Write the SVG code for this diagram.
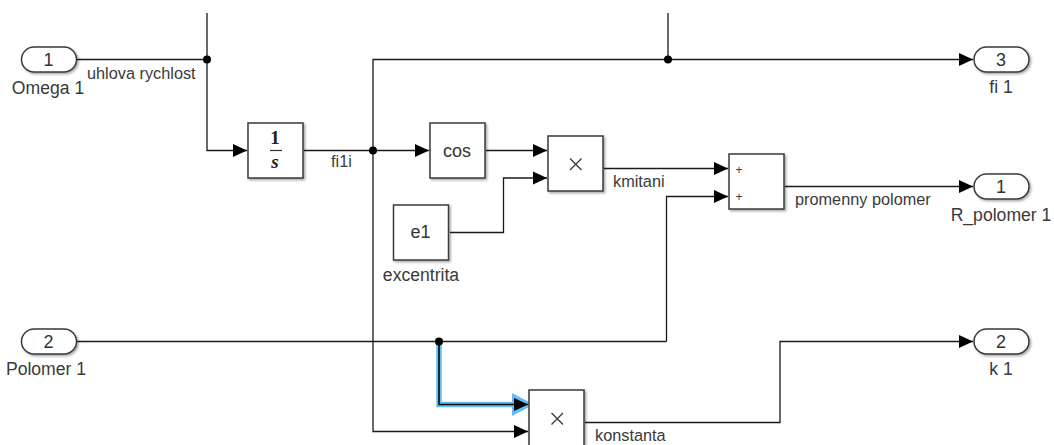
<svg xmlns="http://www.w3.org/2000/svg" width="1054" height="445" viewBox="0 0 1054 445">
<defs>
<style>
text{font-family:"Liberation Sans",Arial,sans-serif;fill:#3a3a3a}
.n{font-size:18px;text-anchor:middle;fill:#333}
.l{font-size:17.6px;text-anchor:middle}
.s{font-size:16.3px}
.b{fill:#fff;stroke:#3a3a3a;stroke-width:1.5;filter:url(#sh)}
.w{fill:none;stroke:#1a1a1a;stroke-width:1.3}
.x{fill:none;stroke:#333;stroke-width:1.2}
.m{font-family:"Liberation Serif",serif;font-size:19px;font-weight:bold;text-anchor:middle;fill:#222}
</style>
<filter id="sh" x="-15%" y="-15%" width="135%" height="135%"><feDropShadow dx="1.5" dy="1.5" stdDeviation="1.2" flood-color="#000" flood-opacity="0.35"/></filter>
<marker id="a" markerUnits="userSpaceOnUse" markerWidth="15" markerHeight="14" refX="14" refY="7" orient="auto"><path d="M0,0.500L14,7L0,13.500z" fill="#000"/></marker>
</defs>
<rect width="1054" height="445" fill="#fff"/>
<g id="connectors">
<path class="w" d="M77,59.500H207"/>
<path class="w" d="M207,13V150.500H247" marker-end="url(#a)"/>
<path class="w" d="M304,150.500H429" marker-end="url(#a)"/>
<path class="w" d="M373,150.500V59.500H973" marker-end="url(#a)"/>
<path class="w" d="M668,13V59.500"/>
<path class="w" d="M373,150.500V431.500H528" marker-end="url(#a)"/>
<path class="w" d="M486,150.500H547" marker-end="url(#a)"/>
<path class="w" d="M450,232.500H503.500V178H547" marker-end="url(#a)"/>
<path class="w" d="M604,168.500H728" marker-end="url(#a)"/>
<path class="w" d="M666.500,341.500V196.500H728" marker-end="url(#a)"/>
<path class="w" d="M785,186.500H973" marker-end="url(#a)"/>
<path class="w" d="M77,341.500H666.500"/>
<path d="M439,341.500V404.500H520" fill="none" stroke="#62bdf6" stroke-width="5.500"/>
<path d="M512,393L534,404.500L512,416z" fill="#62bdf6"/>
<path d="M439,341.500V404.500H528" fill="none" stroke="#111" stroke-width="1.700" marker-end="url(#a)"/>
<path class="w" d="M585,422.500H780V341.500H973" marker-end="url(#a)"/>
<circle cx="207" cy="59.500" r="4" fill="#000"/>
<circle cx="668" cy="59.500" r="4" fill="#000"/>
<circle cx="373" cy="150.500" r="4" fill="#000"/>
<circle cx="439" cy="341.500" r="4" fill="#000"/>
</g>
<g id="omega1"><rect class="b" x="21.500" y="47" width="55" height="25" rx="12.500"/><text class="n" x="48.500" y="66">1</text><text class="l" x="48" y="94">Omega 1</text></g>
<g id="polomer1"><rect class="b" x="21.500" y="329" width="55" height="25" rx="12.500"/><text class="n" x="48.500" y="348">2</text><text class="l" x="46" y="375">Polomer 1</text></g>
<g id="fi1out"><rect class="b" x="974" y="47" width="55" height="25" rx="12.500"/><text class="n" x="1001" y="66">3</text><text class="l" x="1001" y="93">fi 1</text></g>
<g id="rpolomer"><rect class="b" x="974" y="174" width="55" height="25" rx="12.500"/><text class="n" x="1001" y="193">1</text><text class="l" x="1001" y="221">R_polomer 1</text></g>
<g id="k1"><rect class="b" x="974" y="329" width="55" height="25" rx="12.500"/><text class="n" x="1001" y="348">2</text><text class="l" x="1001" y="375">k 1</text></g>
<g id="integrator"><rect class="b" x="248" y="123" width="55" height="55"/>
<text class="m" x="275" y="144">1</text>
<path d="M270,150.500H282" stroke="#333" stroke-width="1.200"/>
<text class="m" x="275" y="168" font-style="italic">s</text></g>
<g id="cos"><rect class="b" x="430" y="123" width="55" height="55"/><text class="n" x="457" y="157">cos</text></g>
<g id="mult1"><rect class="b" x="548" y="136" width="55" height="55"/><path class="x" d="M570,158.500L581.500,170M581.500,158.500L570,170"/></g>
<g id="e1"><rect class="b" x="393.500" y="205" width="55" height="55"/><text class="n" x="420.500" y="238">e1</text><text class="l" x="421" y="281">excentrita</text></g>
<g id="sum"><rect class="b" x="729" y="154" width="55" height="55"/><text x="739" y="174" text-anchor="middle" style="font-size:12px">+</text><text x="739" y="201" text-anchor="middle" style="font-size:12px">+</text></g>
<g id="mult2"><rect class="b" x="529" y="390" width="55" height="60"/><path class="x" d="M551.500,413L563,424.500M563,413L551.500,424.500"/></g>
<g id="labels">
<text class="s" x="87" y="78.500">uhlova rychlost</text>
<text class="s" x="331" y="167">fi1i</text>
<text class="s" x="613" y="187">kmitani</text>
<text class="s" x="795" y="205">promenny polomer</text>
<text class="s" x="595" y="440.500">konstanta</text>
</g>
</svg>
